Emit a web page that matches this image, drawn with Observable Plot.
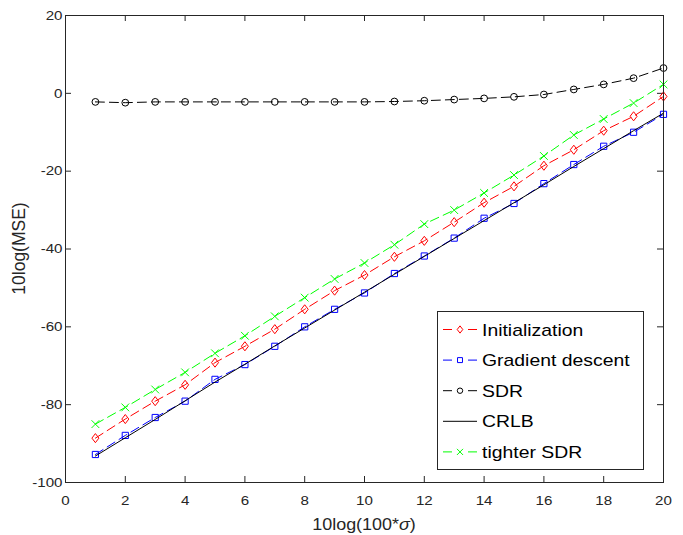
<!DOCTYPE html>
<html><head><meta charset="utf-8">
<script src="https://cdn.jsdelivr.net/npm/d3@7"></script>
<script src="https://cdn.jsdelivr.net/npm/@observablehq/plot@0.6"></script>
<style>body{margin:0;background:#fff} svg{display:block}</style>
</head><body><div id="chart"></div>
<script>
const xValues = [1,2,3,4,5,6,7,8,9,10,11,12,13,14,15,16,17,18,19,20];
const initialization = [-88.6,-83.7,-79.1,-74.9,-69.2,-65.0,-60.6,-55.5,-50.7,-46.7,-42.0,-37.9,-33.1,-28.1,-23.9,-18.6,-14.5,-9.6,-5.9,-0.8];
const gradientDescent = [-92.8,-87.9,-83.3,-79.1,-73.5,-69.7,-65.0,-60.0,-55.5,-51.3,-46.3,-41.8,-37.2,-32.1,-28.3,-23.2,-18.3,-13.6,-10.0,-5.4];
const sdr = [-2.2,-2.4,-2.2,-2.2,-2.2,-2.2,-2.2,-2.2,-2.2,-2.2,-2.1,-1.9,-1.6,-1.3,-0.9,-0.3,1.0,2.3,3.9,6.5];
const crlb = [-93.2,-88.5,-83.8,-79.0,-74.2,-69.6,-64.9,-60.3,-55.7,-51.1,-46.5,-41.9,-37.3,-32.7,-28.1,-23.5,-18.8,-14.2,-9.6,-5.1];
const tighterSdr = [-85.0,-80.7,-76.1,-71.7,-66.8,-62.3,-57.3,-52.5,-47.7,-43.6,-38.9,-33.6,-30.0,-25.6,-21.0,-16.1,-10.7,-6.6,-2.5,2.3];
const xTicks = [0,2,4,6,8,10,12,14,16,18,20];
const yTicks = [-100,-80,-60,-40,-20,0,20];
const seriesNames = ["Initialization","Gradient descent","SDR","CRLB","tighter SDR"];
const seriesColors = ["#ff0000","#0000ff","#000000","#000000","#00ff00"];
const seriesSymbols = ["diamond","square","circle",null,"times"];
const seriesKeys = ["init","grad","sdr","crlb","tight"];

const rows = xValues.map((x,i)=>({x, init:initialization[i], grad:gradientDescent[i], sdr:sdr[i], crlb:crlb[i], tight:tighterSdr[i]}));

const W=683,H=535,mL=65,mR=20,mT=15,mB=53;
const innerW=W-mL-mR, innerH=H-mT-mB;
const axisColor="#262626";
const FONT="'Liberation Sans', Arial, sans-serif";
const tk=6;
const dash="9,5";

// MATLAB-like rhombus (taller than wide)
const matlabDiamond = {draw(ctx,size){const r=Math.sqrt(size/Math.PI);ctx.moveTo(0,-r*1.3);ctx.lineTo(r,0);ctx.lineTo(0,r*1.3);ctx.lineTo(-r,0);ctx.closePath();}};
const symbolTypes = {diamond:matlabDiamond, square:d3.symbolSquare, circle:d3.symbolCircle, times:d3.symbolTimes};
const symR = {diamond:3.5, square:3.5, circle:3.4, times:3.6};

const ordered = [];
seriesKeys.forEach((k,i)=>{
  ordered.push(Plot.line(rows,{x:"x",y:k,stroke:seriesColors[i],strokeWidth:1,strokeDasharray: k==="crlb"?null:dash}));
  const s = seriesSymbols[i];
  if(s) ordered.push(Plot.dot(rows,{x:"x",y:k,stroke:seriesColors[i],fill:"none",strokeWidth:1,symbol:symbolTypes[s],r:symR[s]}));
});

const chart = Plot.plot({
  width:W,height:H,marginLeft:mL,marginRight:mR,marginTop:mT,marginBottom:mB,
  style:{fontFamily:FONT,fontSize:"13.5px",color:axisColor,background:"#fff"},
  x:{domain:[0,20],label:null},
  y:{domain:[-100,20],label:null},
  marks:[
    Plot.axisX(xTicks,{tickSize:0,tickPadding:12.5,fontSize:13.5,fill:axisColor,tickFormat:d=>String(d)}),
    Plot.axisY(yTicks,{tickSize:0,tickPadding:3,fontSize:13.5,fill:axisColor,tickFormat:d=>String(d)}),
    Plot.ruleX(xTicks,{x:d=>d,insetTop:innerH-tk,stroke:axisColor}),
    Plot.ruleX(xTicks,{x:d=>d,insetBottom:innerH-tk,stroke:axisColor}),
    Plot.ruleY(yTicks,{y:d=>d,insetRight:innerW-tk,stroke:axisColor}),
    Plot.ruleY(yTicks,{y:d=>d,insetLeft:innerW-tk,stroke:axisColor}),
    ...ordered,
    Plot.frame({stroke:axisColor})
  ]
});
document.getElementById("chart").appendChild(chart);

const svg = d3.select(chart);
function stretch(sel,k){sel.each(function(){const L=this.getComputedTextLength();this.setAttribute("textLength",L*k);this.setAttribute("lengthAdjust","spacingAndGlyphs");});}

stretch(svg.selectAll('g[aria-label="x-axis tick label"] text'),1.12);
stretch(svg.selectAll('g[aria-label="y-axis tick label"] text'),1.12);

// axis labels
const xl = svg.append("text").attr("x",(mL+W-mR)/2).attr("y",530).attr("text-anchor","middle")
  .attr("font-family",FONT).attr("font-size",16).attr("fill",axisColor);
xl.append("tspan").text("10log(100*");
xl.append("tspan").attr("font-style","italic").text("σ");
xl.append("tspan").text(")");
stretch(xl,1.12);

svg.append("text").attr("transform",`translate(25,${(mT+H-mB)/2}) rotate(-90) scale(1,1.1)`).attr("text-anchor","middle")
  .attr("font-family",FONT).attr("font-size",17.5).attr("fill",axisColor).text("10log(MSE)");

// legend
const lg = svg.append("g");
lg.append("rect").attr("x",437.5).attr("y",311.5).attr("width",206).attr("height",158).attr("fill","#fff").attr("stroke",axisColor);
seriesNames.forEach((name,i)=>{
  const cy = 329.5 + i*30.6;
  const c = seriesColors[i];
  const s = seriesSymbols[i];
  if(s){
    lg.append("line").attr("x1",443).attr("x2",452).attr("y1",cy).attr("y2",cy).attr("stroke",c).attr("stroke-width",1);
    lg.append("line").attr("x1",468).attr("x2",477).attr("y1",cy).attr("y2",cy).attr("stroke",c).attr("stroke-width",1);
    const r = symR[s]*0.8;
    lg.append("path").attr("d",d3.symbol(symbolTypes[s],Math.PI*r*r)()).attr("transform",`translate(460,${cy})`).attr("fill","none").attr("stroke",c);
  } else {
    lg.append("line").attr("x1",443).attr("x2",477).attr("y1",cy).attr("y2",cy).attr("stroke",c).attr("stroke-width",1);
  }
  const t = lg.append("text").attr("x",482).attr("y",cy+6).attr("text-anchor","start").attr("font-family",FONT)
    .attr("font-size",17).attr("fill","#000").text(name);
  stretch(t,1.14);
});
</script>
</body></html>
